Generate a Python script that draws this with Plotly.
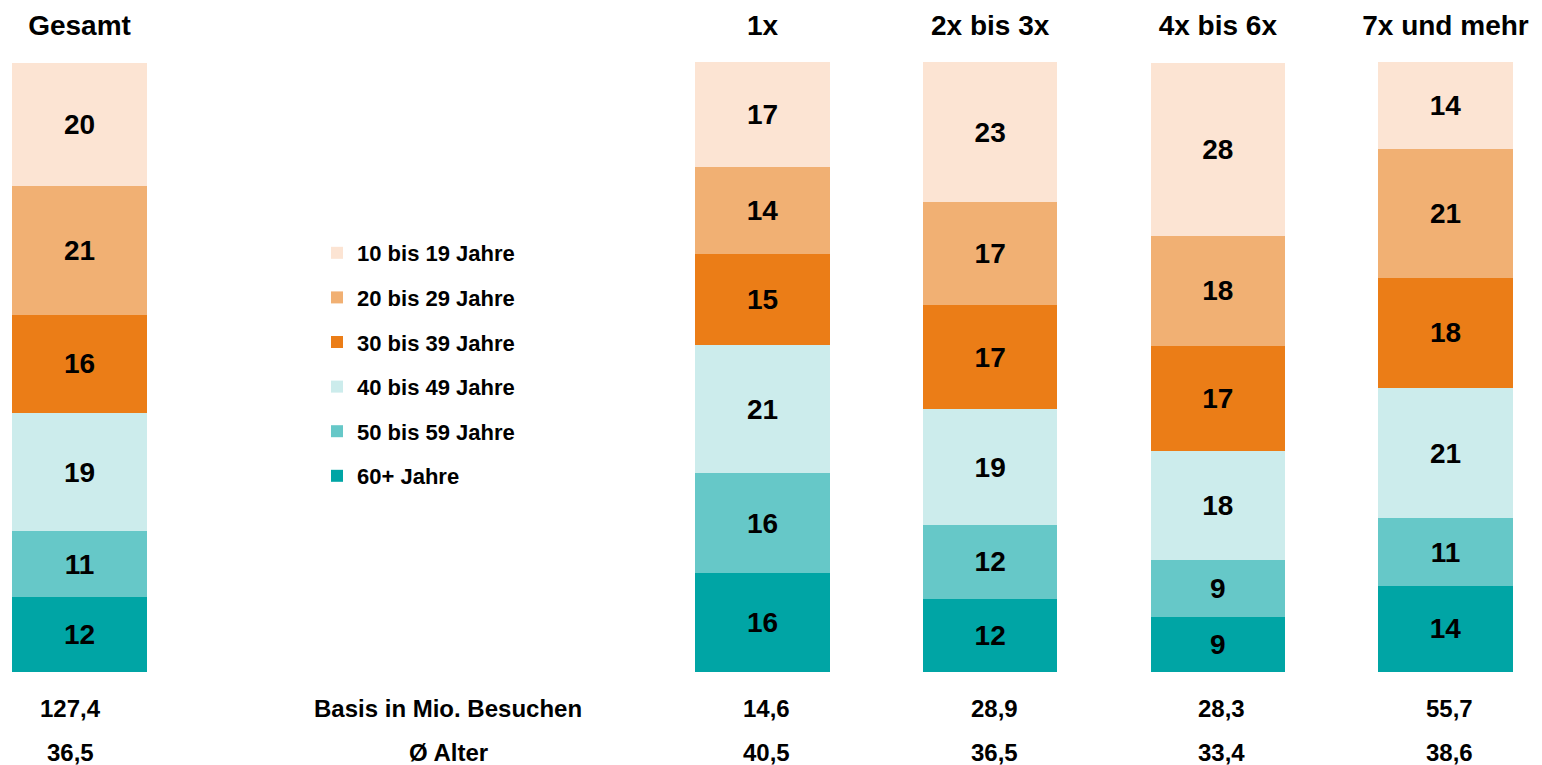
import plotly.graph_objects as go

# Categories (columns) and their x positions on a numeric axis
categories = ["Gesamt", "1x", "2x bis 3x", "4x bis 6x", "7x und mehr"]
positions = [0, 3, 4, 5, 6]

# Age groups (bottom to top of each stack)
age_groups = ["60+ Jahre", "50 bis 59 Jahre", "40 bis 49 Jahre",
              "30 bis 39 Jahre", "20 bis 29 Jahre", "10 bis 19 Jahre"]

# Shares in % per column (Gesamt, 1x, 2x bis 3x, 4x bis 6x, 7x und mehr)
share_60plus = [12.3, 16.2, 12.0, 9.0, 14.1]
share_50_59 = [10.8, 16.4, 12.1, 9.3, 11.1]
share_40_49 = [19.3, 21.0, 19.0, 18.0, 21.4]
share_30_39 = [16.2, 14.9, 17.0, 17.2, 18.0]
share_20_29 = [21.0, 14.3, 16.9, 18.0, 21.1]
share_10_19 = [20.3, 17.2, 23.0, 28.4, 14.3]

series = [share_60plus, share_50_59, share_40_49, share_30_39, share_20_29, share_10_19]
colors = ["#00A5A5", "#66C8C8", "#CCECEC", "#EB7D17", "#F1B073", "#FCE4D3"]

# Table rows below the chart
basis_label = "Basis in Mio. Besuchen"
basis_values = ["127,4", "14,6", "28,9", "28,3", "55,7"]
alter_label = "Ø Alter"
alter_values = ["36,5", "40,5", "36,5", "33,4", "38,6"]

FONT = "Liberation Sans, Arial, Helvetica, sans-serif"

# The page body adds an 8 px margin; the figure is sized to fit the window.
W, H = 1534, 757

fig = go.Figure()
n = len(age_groups)
for i, (name, vals, col) in enumerate(zip(age_groups, series, colors)):
    fig.add_trace(go.Bar(
        x=positions, y=vals, name=name, legendgroup=name,
        legendrank=n - i,
        marker=dict(color=col, line=dict(width=0)),
        width=0.589,
        text=[f"{v:.0f}" for v in vals],
        textposition="inside", insidetextanchor="middle",
        textfont=dict(family=FONT, size=28, color="black", weight="bold"),
        hoverinfo="skip",
    ))

label_font = dict(family=FONT, size=24, color="black", weight="bold")
annotations = []
for p, b, a in zip(positions, basis_values, alter_values):
    shift = -9 if p == 0 else 4
    annotations.append(dict(x=p, y=0, xref="x", yref="paper", text=b, showarrow=False,
                            yanchor="middle", yshift=-36, xshift=shift, font=label_font))
    annotations.append(dict(x=p, y=0, xref="x", yref="paper", text=a, showarrow=False,
                            yanchor="middle", yshift=-80, xshift=shift, font=label_font))
annotations.append(dict(x=1.62, y=0, xref="x", yref="paper", text=basis_label, showarrow=False,
                        yanchor="middle", yshift=-36, font=label_font))
annotations.append(dict(x=1.62, y=0, xref="x", yref="paper", text=alter_label, showarrow=False,
                        yanchor="middle", yshift=-80, font=label_font))

fig.update_layout(
    width=W, height=H,
    margin=dict(l=0, r=0, t=54, b=93),
    barmode="stack",
    plot_bgcolor="white", paper_bgcolor="white",
    uniformtext=dict(minsize=28, mode="show"),
    showlegend=True,
    legend=dict(x=309 / W, y=0.7213, xanchor="left", yanchor="top",
                traceorder="grouped", tracegroupgap=13,
                font=dict(family=FONT, size=22, color="black", weight="bold"),
                bgcolor="rgba(0,0,0,0)"),
    xaxis=dict(range=[-0.314, 6.424], side="top", tickmode="array",
               tickvals=positions, ticktext=categories,
               ticks="outside", ticklen=15, tickcolor="rgba(0,0,0,0)",
               tickfont=dict(family=FONT, size=28, color="black", weight="bold"),
               showgrid=False, zeroline=False, showline=False, fixedrange=True),
    yaxis=dict(range=[0, 100], visible=False, showgrid=False, zeroline=False, fixedrange=True),
    annotations=annotations,
)

fig.write_html("out.html")
